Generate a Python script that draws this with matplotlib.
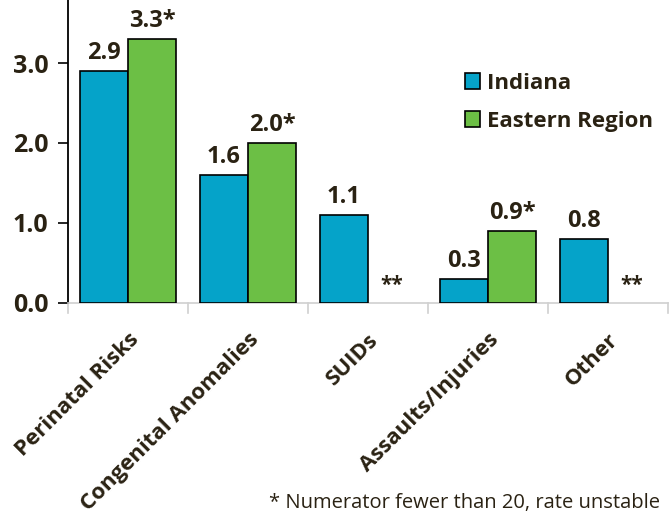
import matplotlib
matplotlib.use("Agg")
import matplotlib.pyplot as plt
import numpy as np

categories = ["Perinatal Risks", "Congenital Anomalies", "SUIDs", "Assaults/Injuries", "Other"]
indiana = [2.9, 1.6, 1.1, 0.3, 0.8]
eastern = [3.3, 2.0, None, 0.9, None]
indiana_labels = ["2.9", "1.6", "1.1", "0.3", "0.8"]
eastern_labels = ["3.3*", "2.0*", "**", "0.9*", "**"]
yticks = [0.0, 1.0, 2.0, 3.0]
ytick_labels = ["0.0", "1.0", "2.0", "3.0"]
series_names = ["Indiana", "Eastern Region"]
footnote = "* Numerator fewer than 20, rate unstable"

TXT = "#2a2213"
BLUE = "#05a3c9"
GREEN = "#6cbf45"
FONT = ["Open Sans", "DejaVu Sans"]
plt.rcParams['font.family'] = FONT

W, H = 670, 519
fig = plt.figure(figsize=(W / 100, H / 100), dpi=100)
ax = fig.add_axes([68 / W, 1 - 303 / H, 600 / W, 303 / H])

x = np.arange(len(categories))
bw = 0.4
ind_h = np.array(indiana, dtype=float)
eas_h = np.array([v if v is not None else 0 for v in eastern], dtype=float)
ax.bar(x - bw / 2, ind_h, width=bw, color=BLUE, edgecolor="black", linewidth=1.2, label=series_names[0], zorder=3)
mask = np.array([v is not None for v in eastern])
ax.bar(x[mask] + bw / 2, eas_h[mask], width=bw, color=GREEN, edgecolor="black", linewidth=1.2, label=series_names[1], zorder=3)

VS = 17
for i in range(len(categories)):
    ax.annotate(indiana_labels[i], (x[i] - bw / 2, ind_h[i]), xytext=(0, 4), textcoords="offset points",
                ha="center", va="bottom", fontsize=VS, fontweight="bold", color=TXT)
    if eastern[i] is not None:
        ax.annotate(eastern_labels[i], (x[i] + bw / 2, eas_h[i]), xytext=(0, 4), textcoords="offset points",
                    ha="center", va="bottom", fontsize=VS, fontweight="bold", color=TXT)
    else:
        ax.annotate(eastern_labels[i], (x[i] + bw / 2, 0), xytext=(0, 5), textcoords="offset points",
                    ha="center", va="bottom", fontsize=15, fontweight="bold", color=TXT)

ax.set_xlim(-0.5, len(categories) - 0.5)
ax.set_ylim(0, 303 / 80)
ax.set_yticks(yticks)
ax.set_yticklabels(ytick_labels, fontsize=18, fontweight="bold", color=TXT)
ax.tick_params(axis="y", direction="out", length=7, width=1.2, color="black", pad=7)

ax.set_xticks(x)
ax.set_xticklabels(categories, rotation=45, ha="right", rotation_mode="anchor",
                   fontsize=16, fontweight="bold", color=TXT)
ax.tick_params(axis="x", length=0, pad=19)
for b in np.arange(len(categories) + 1) - 0.5:
    ax.plot([b, b], [0, -0.12], color="#d0d0d0", lw=1.2, clip_on=False, zorder=2)

for s in ["top", "right"]:
    ax.spines[s].set_visible(False)
ax.spines["left"].set_color("black")
ax.spines["left"].set_linewidth(1.3)
ax.spines["bottom"].set_color("#d0d0d0")
ax.spines["bottom"].set_linewidth(1.2)

leg = ax.legend(loc="upper left", bbox_to_anchor=(388 / 600, 1 - 64 / 303), frameon=False,
                prop={"family": FONT, "weight": "bold", "size": 16}, handlelength=0.7, handleheight=0.7,
                handletextpad=0.3, labelspacing=0.75, borderaxespad=0)
for t in leg.get_texts():
    t.set_color(TXT)

fig.text(660 / W, 1 - 508 / H, footnote, ha="right", va="baseline", fontsize=14.5, color=TXT)

fig.savefig("out.png", dpi=100)
